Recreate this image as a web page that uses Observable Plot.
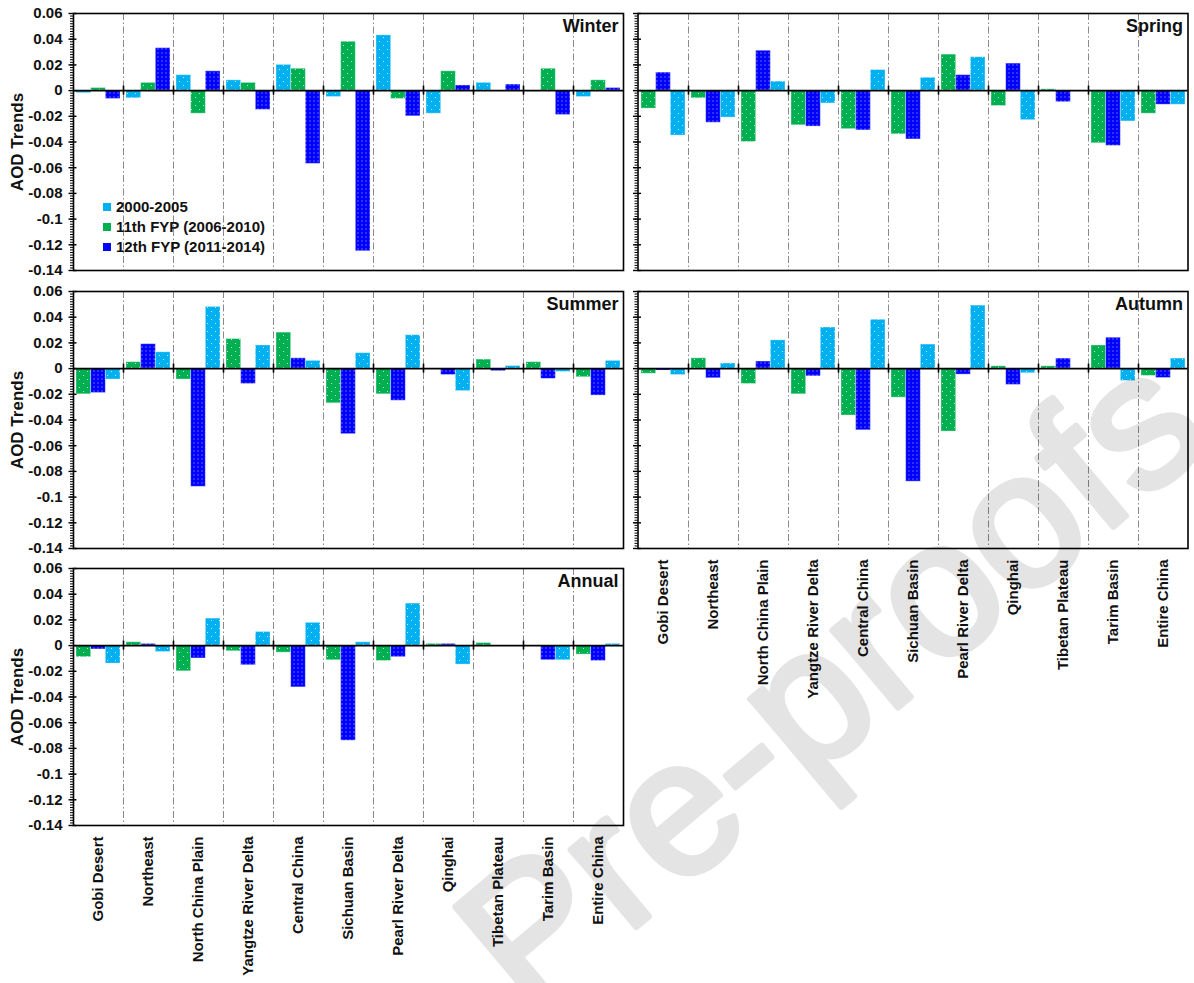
<!DOCTYPE html>
<html>
<head>
<meta charset="utf-8">
<script src="https://cdn.jsdelivr.net/npm/d3@7"></script>
<script src="https://cdn.jsdelivr.net/npm/@observablehq/plot@0.6"></script>
<style>
  body { margin: 0; background: #fff; font-family: "Liberation Sans", Arial, sans-serif; }
  #page { position: relative; width: 1194px; height: 983px; overflow: hidden; background: #fff; }
  #page > svg.panel { position: absolute; overflow: visible; }
  #legend { position: absolute; left: 103px; top: 197px; font: bold 15px "Liberation Sans", Arial, sans-serif; color: #111; }
  #legend div { height: 20px; line-height: 20px; white-space: nowrap; }
  #legend span.key { display: inline-block; width: 8px; height: 8px; margin-right: 5px; vertical-align: 1px; }
  #watermark { position: absolute; left: 0; top: 0; pointer-events: none; }
</style>
</head>
<body>
<div id="page"></div>
<script>
// Regions along the category axis
const regions = ["Gobi Desert", "Northeast", "North China Plain", "Yangtze River Delta", "Central China",
  "Sichuan Basin", "Pearl River Delta", "Qinghai", "Tibetan Plateau", "Tarim Basin", "Entire China"];

// Periods and their colours
const periods = ["2000-2005", "11th FYP (2006-2010)", "12th FYP (2011-2014)"];
const periodColors = ["#00b0f0", "#00b050", "#0000ff"];

// AOD trends per season and period (same order as regions)
const winter2000 = [-0.002, -0.006, 0.012, 0.008, 0.020, -0.005, 0.043, -0.018, 0.006, 0, -0.005];
const winter11th = [0.002, 0.006, -0.018, 0.006, 0.017, 0.038, -0.0065, 0.015, 0, 0.017, 0.008];
const winter12th = [-0.0065, 0.033, 0.015, -0.015, -0.057, -0.125, -0.020, 0.004, 0.0047, -0.019, 0.002];

const spring2000 = [-0.035, -0.021, 0.007, -0.010, 0.016, 0.010, 0.026, -0.023, 0, -0.024, -0.011];
const spring11th = [-0.014, -0.006, -0.040, -0.027, -0.030, -0.034, 0.028, -0.012, 0.001, -0.041, -0.018];
const spring12th = [0.014, -0.025, 0.031, -0.028, -0.031, -0.038, 0.012, 0.021, -0.009, -0.043, -0.011];

const summer2000 = [-0.0085, 0.0127, 0.048, 0.018, 0.006, 0.012, 0.026, -0.0175, 0.002, -0.0026, 0.006];
const summer11th = [-0.020, 0.005, -0.0085, 0.023, 0.028, -0.027, -0.020, 0, 0.007, 0.005, -0.0067];
const summer12th = [-0.019, 0.019, -0.092, -0.012, 0.008, -0.051, -0.025, -0.005, -0.002, -0.008, -0.021];

const autumn2000 = [-0.005, 0.004, 0.022, 0.032, 0.038, 0.0187, 0.049, -0.0036, 0, -0.0096, 0.0078];
const autumn11th = [-0.004, 0.008, -0.012, -0.020, -0.0365, -0.0226, -0.049, 0.0018, 0.0018, 0.018, -0.0057];
const autumn12th = [-0.0015, -0.0075, 0.0055, -0.006, -0.048, -0.088, -0.0047, -0.0127, 0.0078, 0.024, -0.0073];

const annual2000 = [-0.014, -0.005, 0.021, 0.0106, 0.0177, 0.0026, 0.0327, -0.0148, 0, -0.0114, 0.0013];
const annual11th = [-0.009, 0.0026, -0.020, -0.0044, -0.0055, -0.0114, -0.012, 0.0013, 0.002, 0, -0.007];
const annual12th = [-0.003, 0.0013, -0.010, -0.0153, -0.0325, -0.074, -0.009, 0.0013, 0, -0.0114, -0.012];

// Y axis tick values and labels
const yTicks = [0.06, 0.04, 0.02, 0, -0.02, -0.04, -0.06, -0.08, -0.1, -0.12, -0.14];
const yTickLabels = ["0.06", "0.04", "0.02", "0", "-0.02", "-0.04", "-0.06", "-0.08", "-0.1", "-0.12", "-0.14"];
const yMinorTicks = d3.range(-140, 61, 2).map(v => v / 1000);

const page = document.getElementById("page");
const FONT = "'Liberation Sans', Arial, sans-serif";

// Dotted fills for the bars
const defs = d3.select(page).append("svg").attr("width", 0).attr("height", 0)
  .style("position", "absolute").append("defs");
periodColors.forEach((c, i) => {
  const dense = i === 2;
  const s = dense ? 4 : 8;
  const p = defs.append("pattern").attr("id", `dots-${i}`)
    .attr("patternUnits", "userSpaceOnUse").attr("width", s).attr("height", s);
  p.append("rect").attr("width", s).attr("height", s).attr("fill", c);
  p.append("rect").attr("x", dense ? 1.5 : 3).attr("y", dense ? 1.5 : 2)
    .attr("width", 1).attr("height", 1).attr("fill", "#fff").attr("opacity", 0.75);
  if (!dense) p.append("rect").attr("x", 7).attr("y", 6)
    .attr("width", 1).attr("height", 1).attr("fill", "#fff").attr("opacity", 0.75);
});

const PW = 550, PH = 257;          // plot area of each panel
const ROW_TOP = [13.3, 290.7, 568.3];
const COLS = [{left: 0, marginLeft: 73}, {left: 627, marginLeft: 10.5}];

const panels = [
  {title: "Winter", values: [winter2000, winter11th, winter12th], order: [0, 1, 2], col: 0, row: 0, yLabels: true},
  {title: "Spring", values: [spring2000, spring11th, spring12th], order: [1, 2, 0], col: 1, row: 0},
  {title: "Summer", values: [summer2000, summer11th, summer12th], order: [1, 2, 0], col: 0, row: 1, yLabels: true},
  {title: "Autumn", values: [autumn2000, autumn11th, autumn12th], order: [1, 2, 0], col: 1, row: 1, xLabels: true},
  {title: "Annual", values: [annual2000, annual11th, annual12th], order: [1, 2, 0], col: 0, row: 2, yLabels: true, xLabels: true}
];

for (const pn of panels) {
  const bw = PW / regions.length;
  const pad = 3;
  const w = (bw - 2 * pad) / 3;
  const marginTop = 6, marginRight = 3.5;
  const marginBottom = pn.xLabels ? (pn.row === 2 ? 150 : 180) : 4;
  const {left, marginLeft} = COLS[pn.col];

  const marks = [
    // dash-dot separators between regions
    Plot.ruleX(regions.slice(1), {dx: -bw / 2, stroke: "#8a8a8a", strokeWidth: 1, strokeDasharray: "7,2.5,1.5,2.5"})
  ];

  pn.order.forEach((s, k) => {
    const data = regions.map((r, i) => ({region: r, value: pn.values[s][i]})).filter(d => d.value !== 0);
    marks.push(Plot.barY(data, {
      x: "region", y: "value",
      fill: `url(#dots-${s})`,
      stroke: "#fff", strokeOpacity: 0.35, strokeWidth: 1,
      insetLeft: pad + k * w, insetRight: pad + (2 - k) * w
    }));
  });

  marks.push(
    Plot.ruleY([0], {stroke: "#000", strokeWidth: 1.6}),
    Plot.ruleX(regions.slice(1), {y1: 0, y2: 0, insetTop: -4.5, insetBottom: -4.5, dx: -bw / 2, stroke: "#000", strokeWidth: 1.6}),
    Plot.axisY(yMinorTicks, {tickSize: 3, tickFormat: () => null, strokeWidth: 1, label: null}),
    Plot.axisY(yTicks, {tickSize: 3.5, dx: 3.5, tickFormat: () => null, strokeWidth: 1.4, label: null}),
    Plot.axisY(yTicks, {
      tickSize: 4.5, tickPadding: 6.5, strokeWidth: 1.4,
      tickFormat: pn.yLabels ? (d => yTickLabels[yTicks.indexOf(d)]) : () => null,
      fontSize: 15, fontWeight: "bold", fill: "#111", label: null
    }),
    Plot.frame({stroke: "#000", strokeWidth: 1.6}),
    Plot.text([pn.title], {frameAnchor: "top-right", dx: -5, dy: 6, lineAnchor: "top",
      fontSize: 18, fontWeight: "bold", fill: "#111"})
  );

  if (pn.yLabels) {
    marks.push(Plot.text(["AOD Trends"], {frameAnchor: "left", rotate: -90, dx: -56, textAnchor: "middle",
      fontSize: 17, fontWeight: "bold", fill: "#111"}));
  }
  if (pn.xLabels) {
    marks.push(Plot.axisX({tickSize: 0, tickRotate: -90, tickPadding: 11, fontSize: 15, fontWeight: "bold",
      fill: "#111", label: null}));
  }

  const svg = Plot.plot({
    width: marginLeft + PW + marginRight,
    height: marginTop + PH + marginBottom,
    marginLeft, marginRight, marginTop, marginBottom,
    style: {fontFamily: FONT, background: "transparent", overflow: "visible"},
    x: {domain: regions, padding: 0, axis: null},
    y: {domain: [-0.14, 0.06], axis: null},
    marks
  });
  svg.classList.add("panel");
  svg.style.left = left + "px";
  svg.style.top = (ROW_TOP[pn.row] - marginTop) + "px";
  page.appendChild(svg);
}

// Period legend inside the winter panel
const legend = d3.select(page).append("div").attr("id", "legend");
periods.forEach((p, i) => {
  const row = legend.append("div");
  row.append("span").attr("class", "key").style("background", periodColors[i]);
  row.append("span").text(p);
});

// Watermark
const wm = d3.select(page).append("svg").attr("id", "watermark").attr("width", 1194).attr("height", 983);
wm.append("text")
  .attr("transform", "translate(528,1018) rotate(-40)")
  .attr("font-family", FONT).attr("font-size", 192)
  .attr("fill", "#000").attr("stroke", "#000").attr("stroke-width", 6).attr("stroke-linejoin", "round")
  .attr("opacity", 0.1)
  .text("Pre-proofs");
</script>
</body>
</html>
